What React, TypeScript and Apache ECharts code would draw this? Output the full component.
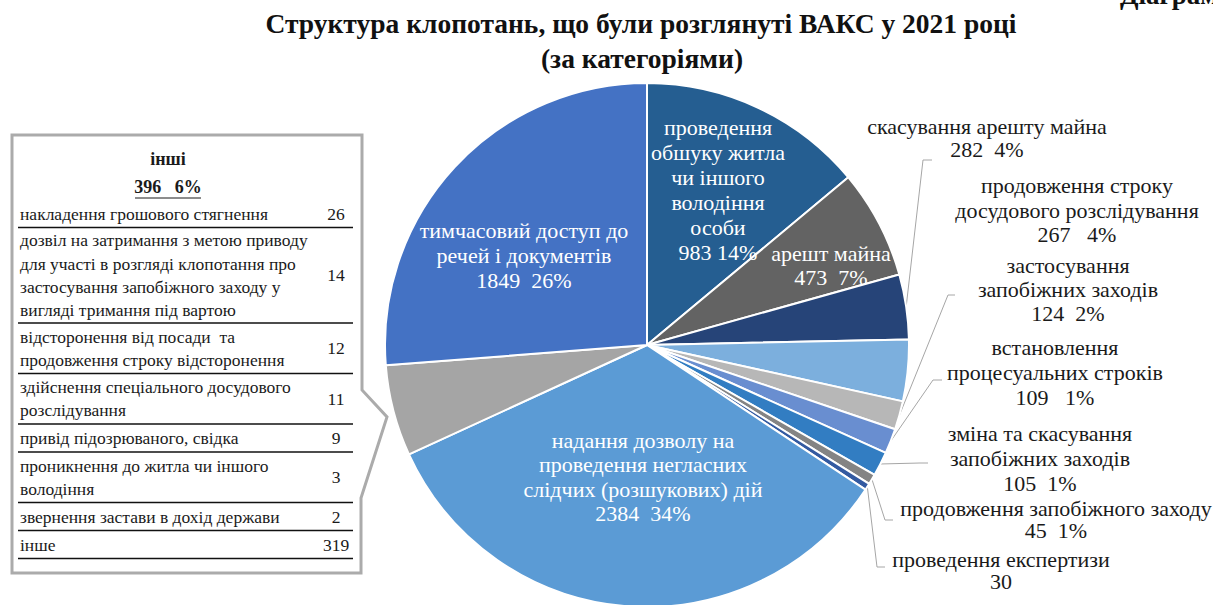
import React, { useEffect, useRef } from 'react';
import * as echarts from 'echarts';

// ---- data (clockwise from 12 o'clock) ----
const categories = [
  'проведення\nобшуку житла\nчи іншого\nволодіння\nособи',
  'арешт майна',
  'скасування арешту майна',
  'продовження строку\nдосудового розслідування',
  'застосування\nзапобіжних заходів',
  'встановлення\nпроцесуальних строків',
  'зміна та скасування\nзапобіжних заходів',
  'продовження запобіжного заходу',
  'проведення експертизи',
  'надання дозволу на\nпроведення негласних\nслідчих (розшукових) дій',
  'інші',
  'тимчасовий доступ до\nречей і документів',
];
const values = [983, 473, 282, 267, 124, 109, 105, 45, 30, 2384, 396, 1849];
const percentLabels = ['14%', '7%', '4%', '4%', '2%', '1%', '1%', '1%', '', '34%', '6%', '26%'];

const othersTitle = 'інші';
const othersNames = [
  'накладення грошового стягнення',
  'дозвіл на затримання з метою приводу\nдля участі в розгляді клопотання про\nзастосування запобіжного заходу у\nвигляді тримання під вартою',
  'відсторонення від посади  та\nпродовження строку відсторонення',
  'здійснення спеціального досудового\nрозслідування',
  'привід підозрюваного, свідка',
  'проникнення до житла чи іншого\nволодіння',
  'звернення застави в дохід держави',
  'інше',
];
const othersValues = [26, 14, 12, 11, 9, 3, 2, 319];

const titleLines = ['Структура клопотань, що були розглянуті ВАКС у 2021 році', '(за категоріями)'];
const cornerText = 'Діаграма';

// ---- styles / layout ----
const colors = ['#255E91', '#636363', '#264478', '#7CAFDD', '#B7B7B7', '#698ED0', '#327DC2', '#848484', '#335AA1', '#5B9BD5', '#A5A5A5', '#4472C4'];
const gaps = [' ', '  ', '  ', '   ', '  ', '   ', '  ', '  ', '', '  ', '  ', '  '];
const inside = [true, true, false, false, false, false, false, false, false, true, false, true];
const labelLineHeights = [25, 24, 23.5, 24.5, 24, 25, 25, 22, 22, 24.5, 24, 25];
const labelCenters: (number[] | null)[] = [
  [718, 190], [831, 265], [987, 138], [1077, 210], [1068, 289], [1055, 372],
  [1040, 458], [1056, 519], [1001, 570], [643, 477], null, [524, 255],
];
const leaderTail: (number[][] | null)[] = [
  null, null, [[923, 160], [932, 160]], null, [[948, 295], [955, 295]], [[933, 380], [942, 380]],
  [[920, 463], [928, 463]], [[885, 520], [893, 520]], [[877, 567], [885, 567]], null, null, null,
];
const SERIF = '"Liberation Serif", "Times New Roman", serif';

export default function App() {
  const ref = useRef<HTMLDivElement>(null);
  useEffect(() => {
    if (!ref.current) return;
    const chart = echarts.init(ref.current, null, { renderer: 'svg' });

    const data = values.map((v, i) => {
      const name = categories[i];
      const pct = percentLabels[i];
      return {
        name,
        value: v,
        itemStyle: { color: colors[i] },
        label: {
          show: i !== 10,
          position: inside[i] ? 'inside' : 'outside',
          color: inside[i] ? '#ffffff' : '#1a1a1a',
          lineHeight: labelLineHeights[i],
          formatter: `${name}\n${v}${gaps[i]}${pct}`,
        },
        labelLine: { show: !!leaderTail[i] },
      };
    });

    const g: any[] = [];
    g.push({
      type: 'polygon',
      shape: { points: [[12, 135], [362, 135], [362, 390], [387, 417], [361, 498], [361, 573], [12, 573]] },
      style: { fill: '#ffffff', stroke: '#ABABAB', lineWidth: 3 },
      z: 1,
    });
    const TXT = '#1a1a1a';
    g.push({ type: 'text', x: 168, y: 159, z: 2, style: { text: othersTitle, fontFamily: SERIF, fontSize: 18, fontWeight: 'bold', fill: TXT, align: 'center', verticalAlign: 'middle' } });
    const othersSum = othersValues.reduce((a, b) => a + b, 0);
    g.push({ type: 'text', x: 168, y: 187, z: 2, style: { text: `${othersSum}   ${percentLabels[10]}`, fontFamily: SERIF, fontSize: 18, fontWeight: 'bold', fill: TXT, align: 'center', verticalAlign: 'middle' } });
    g.push({ type: 'line', z: 2, shape: { x1: 135, y1: 198, x2: 201, y2: 198 }, style: { stroke: TXT, lineWidth: 1 } });
    const lineH = 22.5, pad = 5.5;
    let yTop = 199.5;
    othersNames.forEach((nm, i) => {
      const n = nm.split('\n').length;
      const h = n * lineH + pad;
      const cy = yTop + h / 2;
      g.push({ type: 'text', x: 20, y: cy, z: 2, style: { text: nm, fontFamily: SERIF, fontSize: 17.5, fill: TXT, align: 'left', verticalAlign: 'middle', lineHeight: 23.3 } });
      g.push({ type: 'text', x: 336, y: cy, z: 2, style: { text: String(othersValues[i]), fontFamily: SERIF, fontSize: 17.5, fill: TXT, align: 'center', verticalAlign: 'middle' } });
      yTop += h;
      g.push({ type: 'line', z: 2, shape: { x1: 18, y1: yTop, x2: 353, y2: yTop }, style: { stroke: '#111', lineWidth: 1.5 } });
    });
    g.push({ type: 'text', x: 641, y: 23, z: 2, style: { text: titleLines[0], fontFamily: SERIF, fontSize: 27.5, fontWeight: 'bold', fill: '#111', align: 'center', verticalAlign: 'middle' } });
    g.push({ type: 'text', x: 642, y: 58, z: 2, style: { text: titleLines[1], fontFamily: SERIF, fontSize: 27.5, fontWeight: 'bold', fill: '#111', align: 'center', verticalAlign: 'middle' } });
    g.push({ type: 'text', x: 1120, y: 8, z: 2, style: { text: cornerText, fontFamily: SERIF, fontSize: 27, fontWeight: 'bold', fill: '#111', align: 'left', verticalAlign: 'bottom' } });

    chart.setOption({
      animation: false,
      backgroundColor: '#ffffff',
      graphic: g,
      series: [
        {
          type: 'pie',
          center: [647, 345],
          radius: 262,
          startAngle: 90,
          clockwise: true,
          avoidLabelOverlap: false,
          itemStyle: { borderColor: '#ffffff', borderWidth: 2 },
          label: { fontFamily: SERIF, fontSize: 22, align: 'center' },
          labelLine: { lineStyle: { color: '#A6A6A6', width: 1 }, length: 10, length2: 10 },
          labelLayout: (p: any) => {
            const c = labelCenters[p.dataIndex];
            if (!c) return {};
            const res: any = { x: c[0], y: c[1], align: 'center', verticalAlign: 'middle' };
            const tail = leaderTail[p.dataIndex];
            if (tail && p.labelLinePoints && p.labelLinePoints[0]) {
              res.labelLinePoints = [p.labelLinePoints[0], ...tail];
            }
            return res;
          },
          emphasis: { disabled: true },
          data,
        },
      ],
    });
    return () => chart.dispose();
  }, []);
  return <div ref={ref} style={{ position: 'fixed', left: 0, top: 0, width: 1213, height: 605 }} />;
}
